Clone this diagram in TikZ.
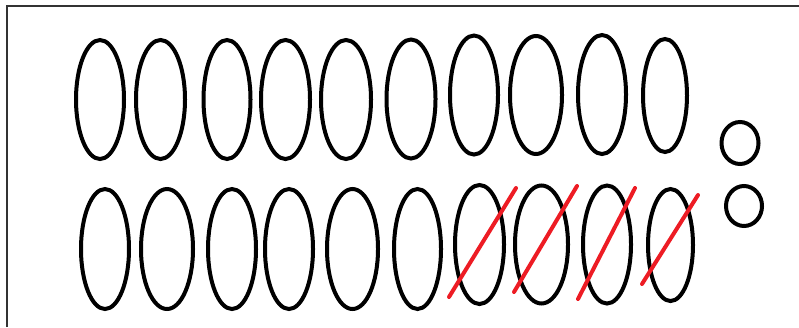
\documentclass[tikz,border=0pt]{standalone}
\usetikzlibrary{shapes.geometric}
\begin{document}
\begin{tikzpicture}[x=1pt,y=-1pt,
  oval/.style={draw=black,line width=4pt,ellipse,inner sep=0pt,minimum width=48pt,minimum height=119pt},
  dot/.style={draw=black,line width=4pt,ellipse,inner sep=0pt,minimum width=37pt,minimum height=42pt},
  slash/.style={draw={rgb,255:red,237;green,28;blue,36},line width=4pt,line cap=round}]
\useasboundingbox (0,0) rectangle (799,327);
\draw[line width=2pt,color=black!80] (7,327) -- (7,6) -- (799,6);
% top row
\node[oval] (t1) at (100,99.5) {};
\node[oval,minimum width=49pt] (t2) at (160.5,99.5) {};
\node[oval,minimum width=47pt] (t3) at (227,99.5) {};
\node[oval,minimum width=49pt] (t4) at (285.5,99.5) {};
\node[oval,minimum width=50pt] (t5) at (346,99.5) {};
\node[oval,minimum width=49pt] (t6) at (411,99) {};
\node[oval] (t7) at (474,95) {};
\node[oval,minimum width=52pt,minimum height=118pt] (t8) at (536,95) {};
\node[oval,minimum width=48pt,minimum height=119pt] (t9) at (602,94.5) {};
\node[oval,minimum width=44pt,minimum height=113pt] (t10) at (665,95.5) {};
% bottom row
\node[oval,minimum height=120pt] (b1) at (105,249) {};
\node[oval,minimum width=52pt,minimum height=120pt] (b2) at (167,249) {};
\node[oval,minimum height=120pt] (b3) at (232,249) {};
\node[oval,minimum height=120pt] (b4) at (289,249) {};
\node[oval,minimum width=51pt,minimum height=120pt] (b5) at (352.5,249) {};
\node[oval,minimum width=47pt,minimum height=120pt] (b6) at (417.5,249) {};
\node[oval,minimum width=49pt,minimum height=119pt] (b7) at (479.5,244.5) {};
\node[oval,minimum width=53pt,minimum height=118pt] (b8) at (541.5,244.5) {};
\node[oval,minimum width=48pt,minimum height=118pt] (b9) at (607,244.5) {};
\node[oval,minimum width=45pt,minimum height=112pt] (b10) at (670.5,245) {};
% small circles
\node[dot] (c1) at (740,143) {};
\node[dot,minimum width=36pt,minimum height=40pt] (c2) at (744,206) {};
% red slashes
\coordinate (s1a) at (449,297); \coordinate (s1b) at (516,188);
\coordinate (s2a) at (514,292); \coordinate (s2b) at (577,186);
\coordinate (s3a) at (578,299); \coordinate (s3b) at (635,188);
\coordinate (s4a) at (642,284); \coordinate (s4b) at (698,195);
\draw[slash] (s1a) -- (s1b);
\draw[slash] (s2a) -- (s2b);
\draw[slash] (s3a) -- (s3b);
\draw[slash] (s4a) -- (s4b);
\end{tikzpicture}
\end{document}
